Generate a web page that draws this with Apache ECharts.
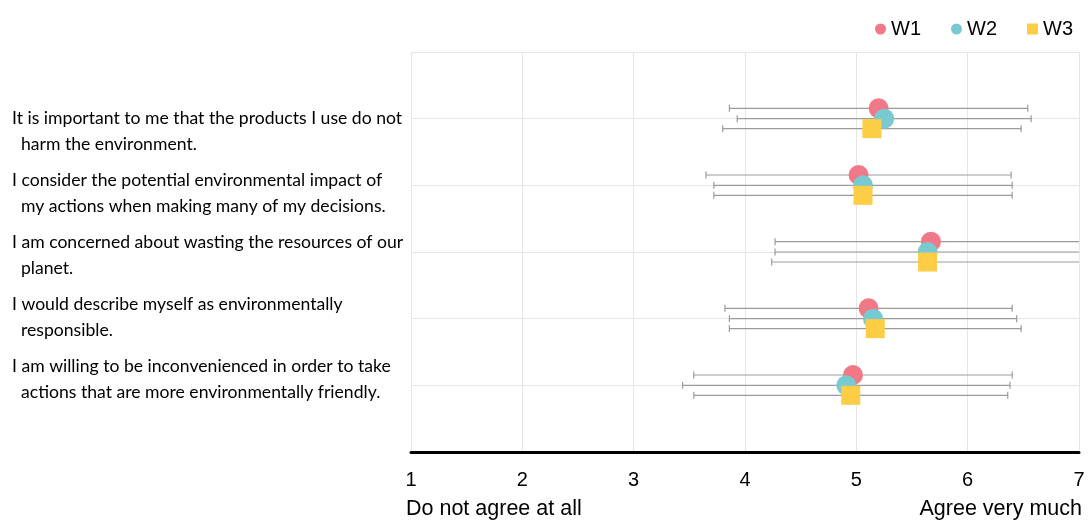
<!DOCTYPE html>
<html>
<head>
<meta charset="utf-8">
<script src="https://cdn.jsdelivr.net/npm/echarts@6/dist/echarts.min.js"></script>
<style>
html,body{margin:0;padding:0;background:#fff;}
#chart{width:1088px;height:522px;}
</style>
</head>
<body>
<div id="chart"></div>
<script>
const categories = [
  "It is important to me that the products I use do not\n  harm the environment.",
  "I consider the potential environmental impact of\n  my actions when making many of my decisions.",
  "I am concerned about wasting the resources of our\n  planet.",
  "I would describe myself as environmentally\n  responsible.",
  "I am willing to be inconvenienced in order to take\n  actions that are more environmentally friendly."
];
const seriesNames = ["W1", "W2", "W3"];
const w1Mean = [5.20, 5.02, 5.67, 5.11, 4.97];
const w1Sd   = [1.34, 1.37, 1.40, 1.29, 1.43];
const w2Mean = [5.25, 5.06, 5.64, 5.15, 4.91];
const w2Sd   = [1.32, 1.34, 1.37, 1.29, 1.47];
const w3Mean = [5.14, 5.06, 5.64, 5.17, 4.95];
const w3Sd   = [1.34, 1.34, 1.40, 1.31, 1.41];
const xTicks = [1, 2, 3, 4, 5, 6, 7];
const leftLabel = "Do not agree at all";
const rightLabel = "Agree very much";

const colors = ["#f17886", "#79c9d1", "#fdcd45"];
const symbols = ["circle", "circle", "rect"];
const sizes = [20, 20, 19];
const offsets = [-0.155, 0, 0.15];
const means = [w1Mean, w2Mean, w3Mean];
const sds = [w1Sd, w2Sd, w3Sd];
const X_MIN = xTicks[0], X_MAX = xTicks[xTicks.length - 1];

const series = [];
// error bars
seriesNames.forEach((name, s) => {
  series.push({
    type: 'custom',
    name: name + ' sd',
    xAxisIndex: 0, yAxisIndex: 0,
    z: 1,
    clip: true,
    silent: true,
    encode: {x: 0, y: 1},
    data: means[s].map((m, i) => [m, i + 1 + offsets[s], sds[s][i]]),
    renderItem: function (params, api) {
      const m = api.value(0), y = api.value(1), sd = api.value(2);
      const lo = m - sd, hi = m + sd;
      const p1 = api.coord([Math.max(lo, X_MIN), y]);
      const p2 = api.coord([Math.min(hi, X_MAX), y]);
      const st = {stroke: '#9b9b9b', lineWidth: 1.2};
      const children = [{type: 'line', shape: {x1: p1[0], y1: p1[1], x2: p2[0], y2: p2[1]}, style: st}];
      if (lo >= X_MIN) children.push({type: 'line', shape: {x1: p1[0], y1: p1[1] - 3.5, x2: p1[0], y2: p1[1] + 3.5}, style: st});
      if (hi <= X_MAX) children.push({type: 'line', shape: {x1: p2[0], y1: p2[1] - 3.5, x2: p2[0], y2: p2[1] + 3.5}, style: st});
      return {type: 'group', children: children};
    }
  });
});
// markers
seriesNames.forEach((name, s) => {
  series.push({
    type: 'scatter',
    name: name,
    xAxisIndex: 0, yAxisIndex: 0,
    z: 5,
    symbol: symbols[s],
    symbolSize: sizes[s],
    itemStyle: {color: colors[s], opacity: 1},
    data: means[s].map((m, i) => [m, i + 1 + offsets[s]])
  });
});

const FONT = 'Liberation Sans, Arial, sans-serif';
const option = {
  animation: false,
  backgroundColor: '#ffffff',
  legend: {
    data: seriesNames,
    right: 10, top: 14,
    itemWidth: 11, itemHeight: 11, itemGap: 30,
    textStyle: {fontSize: 20, fontFamily: FONT, color: '#000'}
  },
  title: [
    {text: leftLabel, left: 406, top: 498, padding: 0,
     textStyle: {fontSize: 21.5, fontWeight: 'normal', fontFamily: FONT, color: '#000'}},
    {text: rightLabel, right: 6, top: 498, padding: 0,
     textStyle: {fontSize: 21.5, fontWeight: 'normal', fontFamily: FONT, color: '#000'}}
  ],
  grid: [
    {left: 411, right: 9, top: 52, bottom: 70},
    {left: 412, right: 9, top: 100, bottom: 112}
  ],
  xAxis: [
    {type: 'value', gridIndex: 0, position: 'bottom', min: X_MIN, max: X_MAX, interval: 1,
     axisLine: {show: true, onZero: false, lineStyle: {color: '#000', width: 3}},
     axisTick: {show: false},
     axisLabel: {fontSize: 20, color: '#000', margin: 18, fontFamily: FONT,
                 formatter: v => String(v)},
     splitLine: {show: true, lineStyle: {color: '#e6e6e6', width: 1}}},
    {type: 'value', gridIndex: 1, show: false, min: 0, max: 1}
  ],
  yAxis: [
    {type: 'value', gridIndex: 0, min: 0, max: 6, interval: 1, inverse: true,
     axisLine: {show: false}, axisTick: {show: false}, axisLabel: {show: false},
     splitLine: {show: true, lineStyle: {color: '#e6e6e6', width: 1}}},
    {type: 'category', gridIndex: 1, data: categories, inverse: true,
     axisLine: {show: false}, axisTick: {show: false}, splitLine: {show: false},
     axisLabel: {align: 'left', margin: 400, fontSize: 17.6, lineHeight: 26, color: '#000',
                 fontFamily: 'Lato, sans-serif', interval: 0}}
  ],
  series: series
};
const chart = echarts.init(document.getElementById('chart'), null, {renderer: 'canvas'});
chart.setOption(option);
</script>
</body>
</html>
